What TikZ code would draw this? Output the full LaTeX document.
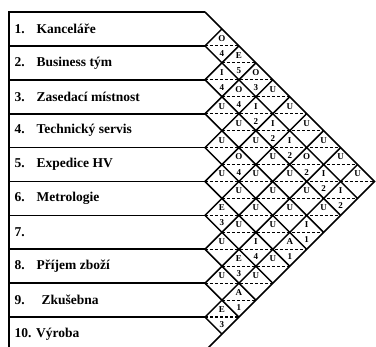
\documentclass[tikz,border=0pt]{standalone}
\usepackage{fontspec}
\setmainfont{Liberation Serif}
\usepackage{tikz}
\usetikzlibrary{positioning}
\tikzstyle{frame} = [line width=1.7pt, line join=miter]
\tikzstyle{grid} = [line width=1.5pt]
\tikzstyle{split} = [line width=1.2pt, dash pattern=on 3pt off 2pt]
\tikzstyle{lbl} = [anchor=west, inner sep=0pt, font=\bfseries\fontsize{13.5}{14}\selectfont]
\tikzstyle{rel} = [inner sep=0pt, font=\bfseries\fontsize{9}{9}\selectfont]
\newcommand{\nr}[1]{\makebox[22pt][l]{#1}}
\def\h{33.9}
\def\xo{205}

\begin{document}
\begin{tikzpicture}[x=1pt,y=-1pt]
	\useasboundingbox (0,0) rectangle (376,347);
	\clip (0,0) rectangle (376,347);
	
	%Rows
	\foreach \k in {1,...,9} {
		\draw[frame] (9,{12+\k*\h}) -- (\xo,{12+\k*\h});
	}
	\draw[frame] (\xo,12) -- (9,12) -- (9,{12+10*\h}) -- (\xo,{12+10*\h});
	\draw[frame] (\xo,12) -- ({\xo+5*\h},{12+5*\h}) -- (\xo,{12+10*\h});
	
	%Diamonds
	\foreach \k in {1,...,9} {
		\draw[grid] (\xo,{12+\k*\h}) -- ++({(10-\k)*\h/2},{(10-\k)*\h/2});
		\draw[grid] (\xo,{12+\k*\h}) -- ++({\k*\h/2},{-\k*\h/2});
	}
	
	%Dashed lines
	\foreach \k in {1,...,9} {
		\pgfmathsetmacro\w{min(\k,10-\k)*\h}
		\draw[split] (\xo,{12+\k*\h}) -- ++(\w,0);
	}
	\foreach \k in {2,...,9} {
		\pgfmathsetmacro\w{(min(\k,11-\k)-1)*\h}
		\draw[split] ({\xo+\h/2},{12+(\k-0.5)*\h}) -- ++(\w,0);
	}
	
	%Labels
	\node[lbl] (row1) at (14.5,{12+0.5*\h}) {\nr{1.}Kanceláře};
	\node[lbl] (row2) at (14.5,{12+1.5*\h}) {\nr{2.}Business tým};
	\node[lbl] (row3) at (14.5,{12+2.5*\h}) {\nr{3.}Zasedací místnost};
	\node[lbl] (row4) at (14.5,{12+3.5*\h}) {\nr{4.}Technický servis};
	\node[lbl] (row5) at (14.5,{12+4.5*\h}) {\nr{5.}Expedice HV};
	\node[lbl] (row6) at (14.5,{12+5.5*\h}) {\nr{6.}Metrologie};
	\node[lbl] (row7) at (14.5,{12+6.5*\h}) {\nr{7.}};
	\node[lbl] (row8) at (14.5,{12+7.5*\h}) {\nr{8.}Příjem zboží};
	\node[lbl] (row9) at (14.5,{12+8.5*\h}) {\makebox[27pt][l]{9.}Zkušebna};
	\node[lbl] (row10) at (14.5,{12+9.5*\h}) {10. Výroba};
	
	%Relations
	\foreach \i/\j/\r in {1/2/O,1/3/E,1/4/O,1/5/U,1/6/U,1/7/U,1/8/U,1/9/U,1/10/U,
		2/3/I,2/4/O,2/5/I,2/6/I,2/7/I,2/8/O,2/9/I,2/10/I,
		3/4/U,3/5/U,3/6/U,3/7/U,3/8/U,3/9/U,3/10/U,
		4/5/U,4/6/O,4/7/U,4/8/U,4/9/U,4/10/I,
		5/6/U,5/7/U,5/8/U,5/9/U,5/10/A,
		6/7/E,6/8/U,6/9/I,6/10/U,
		7/8/U,7/9/E,7/10/U,
		8/9/U,8/10/A,
		9/10/E} {
		\node[rel] (rel\i-\j) at ({\xo+(\j-\i)*\h/2},{12+(\i+\j-1)*\h/2-7.5}) {\r};
	}
	\foreach \i/\j/\n in {1/2/4,1/3/5,1/4/3,2/3/4,2/4/4,2/5/2,2/6/2,2/7/2,2/8/2,2/9/2,2/10/2,
		4/6/4,4/10/1,5/10/1,6/7/3,6/9/4,7/9/3,8/10/1,9/10/3} {
		\node[rel] (num\i-\j) at ({\xo+(\j-\i)*\h/2},{12+(\i+\j-1)*\h/2+7.5}) {\n};
	}
\end{tikzpicture}
\end{document}
